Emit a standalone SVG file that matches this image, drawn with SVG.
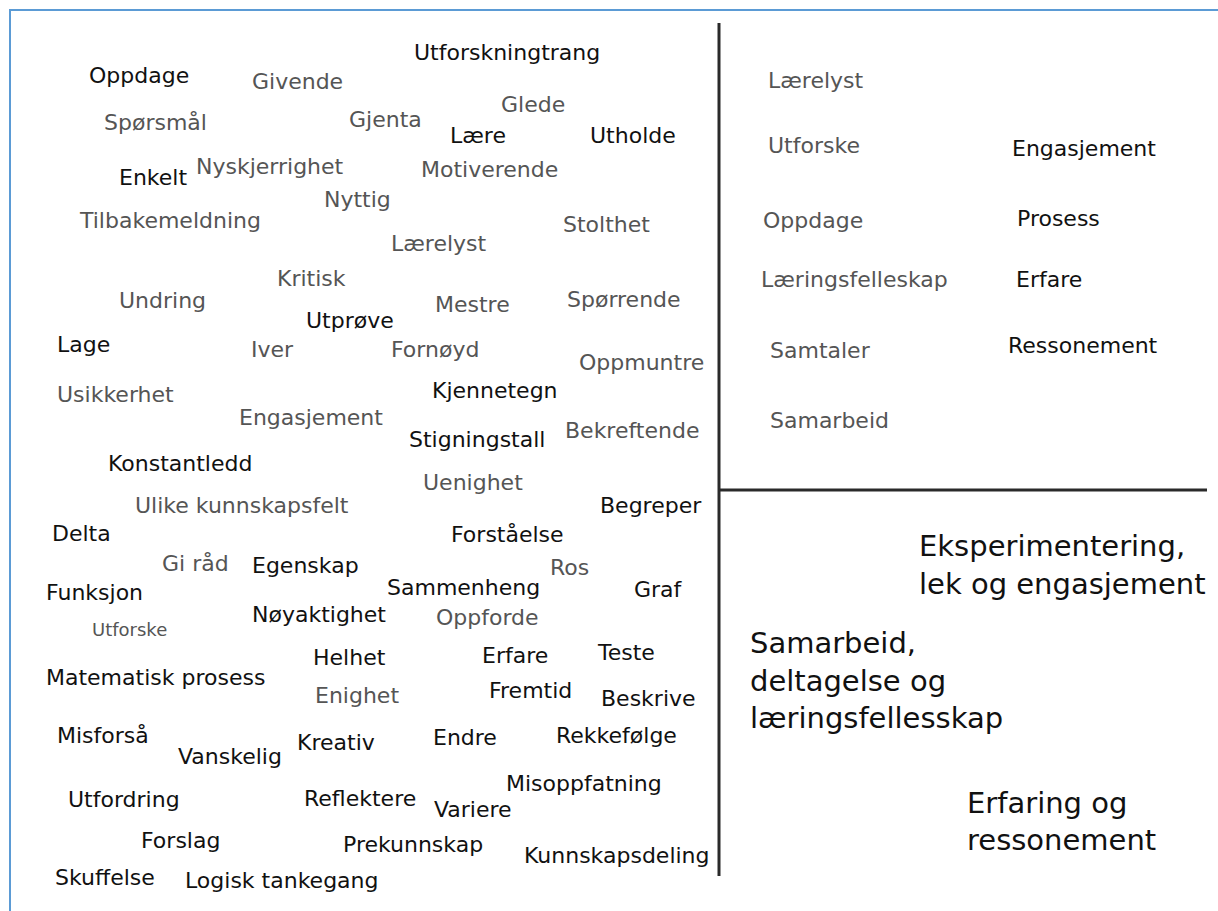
<svg xmlns="http://www.w3.org/2000/svg" width="1218" height="911" viewBox="0 0 1218 911">
<style>
text{font-family:"DejaVu Sans","Liberation Sans",sans-serif;font-size:22px}
.b{fill:#111}
.g{fill:#555}
.s{font-size:18px}
.cat{fill:#111;font-size:29px}
.frame{stroke:#5b9bd5;stroke-width:2;fill:none}
.div{stroke:#2a2a2a;stroke-width:3;fill:none}
</style>
<rect width="1218" height="911" fill="#fff"/>
<g id="frame"><path class="frame" d="M10,1218 V10 H1218"/></g>
<g id="dividers">
<line class="div" x1="719" y1="23" x2="719" y2="876"/>
<line class="div" x1="719" y1="490" x2="1207" y2="490"/>
</g>
<g id="words-left">
<g id="w-utforskningtrang"><text class="b" x="414" y="60">Utforskningtrang</text></g>
<g id="w-oppdage"><text class="b" x="89" y="83">Oppdage</text></g>
<g id="w-givende"><text class="g" x="252" y="89">Givende</text></g>
<g id="w-glede"><text class="g" x="501" y="112">Glede</text></g>
<g id="w-gjenta"><text class="g" x="349" y="127">Gjenta</text></g>
<g id="w-sporsmal"><text class="g" x="104" y="130">Spørsmål</text></g>
<g id="w-laere"><text class="b" x="450" y="143">Lære</text></g>
<g id="w-utholde"><text class="b" x="590" y="143">Utholde</text></g>
<g id="w-nyskjerrighet"><text class="g" x="196" y="174">Nyskjerrighet</text></g>
<g id="w-motiverende"><text class="g" x="421" y="177">Motiverende</text></g>
<g id="w-enkelt"><text class="b" x="119" y="185">Enkelt</text></g>
<g id="w-nyttig"><text class="g" x="324" y="207">Nyttig</text></g>
<g id="w-tilbakemeldning"><text class="g" x="80" y="228">Tilbakemeldning</text></g>
<g id="w-stolthet"><text class="g" x="563" y="232">Stolthet</text></g>
<g id="w-laerelyst"><text class="g" x="391" y="251">Lærelyst</text></g>
<g id="w-kritisk"><text class="g" x="277" y="286">Kritisk</text></g>
<g id="w-undring"><text class="g" x="119" y="308">Undring</text></g>
<g id="w-sporrende"><text class="g" x="567" y="307">Spørrende</text></g>
<g id="w-mestre"><text class="g" x="435" y="312">Mestre</text></g>
<g id="w-utprove"><text class="b" x="306" y="328">Utprøve</text></g>
<g id="w-lage"><text class="b" x="57" y="352">Lage</text></g>
<g id="w-iver"><text class="g" x="251" y="357">Iver</text></g>
<g id="w-fornoyd"><text class="g" x="391" y="357">Fornøyd</text></g>
<g id="w-oppmuntre"><text class="g" x="579" y="370">Oppmuntre</text></g>
<g id="w-kjennetegn"><text class="b" x="432" y="398">Kjennetegn</text></g>
<g id="w-usikkerhet"><text class="g" x="57" y="402">Usikkerhet</text></g>
<g id="w-engasjement"><text class="g" x="239" y="425">Engasjement</text></g>
<g id="w-bekreftende"><text class="g" x="565" y="438">Bekreftende</text></g>
<g id="w-stigningstall"><text class="b" x="409" y="447">Stigningstall</text></g>
<g id="w-konstantledd"><text class="b" x="108" y="471">Konstantledd</text></g>
<g id="w-uenighet"><text class="g" x="423" y="490">Uenighet</text></g>
<g id="w-ulike"><text class="g" x="135" y="513">Ulike kunnskapsfelt</text></g>
<g id="w-begreper"><text class="b" x="600" y="513">Begreper</text></g>
<g id="w-delta"><text class="b" x="52" y="541">Delta</text></g>
<g id="w-forstaelse"><text class="b" x="451" y="542">Forståelse</text></g>
<g id="w-giraad"><text class="g" x="162" y="571">Gi råd</text></g>
<g id="w-egenskap"><text class="b" x="252" y="573">Egenskap</text></g>
<g id="w-ros"><text class="g" x="550" y="575">Ros</text></g>
<g id="w-sammenheng"><text class="b" x="387" y="595">Sammenheng</text></g>
<g id="w-graf"><text class="b" x="634" y="597">Graf</text></g>
<g id="w-funksjon"><text class="b" x="46" y="600">Funksjon</text></g>
<g id="w-noyaktighet"><text class="b" x="252" y="622">Nøyaktighet</text></g>
<g id="w-oppforde"><text class="g" x="436" y="625">Oppforde</text></g>
<g id="w-utforske-small"><text class="g s" x="92" y="636">Utforske</text></g>
<g id="w-teste"><text class="b" x="598" y="660">Teste</text></g>
<g id="w-erfare"><text class="b" x="482" y="663">Erfare</text></g>
<g id="w-helhet"><text class="b" x="313" y="665">Helhet</text></g>
<g id="w-matematisk"><text class="b" x="46" y="685">Matematisk prosess</text></g>
<g id="w-fremtid"><text class="b" x="489" y="698">Fremtid</text></g>
<g id="w-enighet"><text class="g" x="315" y="703">Enighet</text></g>
<g id="w-beskrive"><text class="b" x="601" y="706">Beskrive</text></g>
<g id="w-misforsa"><text class="b" x="57" y="743">Misforså</text></g>
<g id="w-rekkefolge"><text class="b" x="556" y="743">Rekkefølge</text></g>
<g id="w-endre"><text class="b" x="433" y="745">Endre</text></g>
<g id="w-kreativ"><text class="b" x="297" y="750">Kreativ</text></g>
<g id="w-vanskelig"><text class="b" x="178" y="764">Vanskelig</text></g>
<g id="w-misoppfatning"><text class="b" x="506" y="791">Misoppfatning</text></g>
<g id="w-reflektere"><text class="b" x="304" y="806">Reflektere</text></g>
<g id="w-utfordring"><text class="b" x="68" y="807">Utfordring</text></g>
<g id="w-variere"><text class="b" x="434" y="817">Variere</text></g>
<g id="w-forslag"><text class="b" x="141" y="848">Forslag</text></g>
<g id="w-prekunnskap"><text class="b" x="343" y="852">Prekunnskap</text></g>
<g id="w-kunnskapsdeling"><text class="b" x="524" y="863">Kunnskapsdeling</text></g>
<g id="w-skuffelse"><text class="b" x="55" y="885">Skuffelse</text></g>
<g id="w-logisk"><text class="b" x="185" y="888">Logisk tankegang</text></g>
</g>
<g id="words-right">
<g id="r-laerelyst"><text class="g" x="768" y="88">Lærelyst</text></g>
<g id="r-utforske"><text class="g" x="768" y="153">Utforske</text></g>
<g id="r-engasjement"><text class="b" x="1012" y="156">Engasjement</text></g>
<g id="r-oppdage"><text class="g" x="763" y="228">Oppdage</text></g>
<g id="r-prosess"><text class="b" x="1017" y="226">Prosess</text></g>
<g id="r-laeringsfelleskap"><text class="g" x="761" y="287">Læringsfelleskap</text></g>
<g id="r-erfare"><text class="b" x="1016" y="287">Erfare</text></g>
<g id="r-samtaler"><text class="g" x="770" y="358">Samtaler</text></g>
<g id="r-ressonement"><text class="b" x="1008" y="353">Ressonement</text></g>
<g id="r-samarbeid"><text class="g" x="770" y="428">Samarbeid</text></g>
</g>
<g id="categories">
<g id="cat-eksperimentering"><text class="cat" x="919" y="556"><tspan x="919">Eksperimentering,</tspan><tspan x="919" y="594">lek og engasjement</tspan></text></g>
<g id="cat-samarbeid"><text class="cat" x="750" y="653"><tspan x="750">Samarbeid,</tspan><tspan x="750" y="691">deltagelse og</tspan><tspan x="750" y="728">læringsfellesskap</tspan></text></g>
<g id="cat-erfaring"><text class="cat" x="967" y="813"><tspan x="967">Erfaring og</tspan><tspan x="967" y="850">ressonement</tspan></text></g>
</g>
</svg>
